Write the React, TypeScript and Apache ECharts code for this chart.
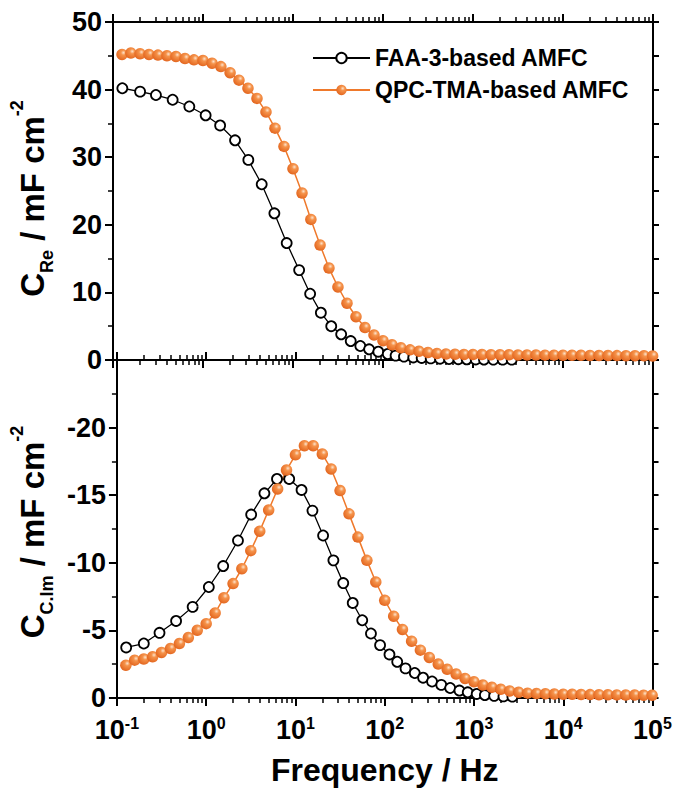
import React, { useEffect, useRef } from "react";
import * as echarts from "echarts";

// ---------- data ----------
const seriesNames = ["FAA-3-based AMFC", "QPC-TMA-based AMFC"];

// FAA-3-based AMFC frequencies (Hz)
const blackFreq = [
  0.127, 0.2, 0.3, 0.46, 0.705, 1.07, 1.55, 2.27, 3.19, 4.49,
  6.21, 8.51, 11.7, 15.5, 20.4, 26.6, 34.3, 43.8, 56.0, 70.1,
  88.7, 113, 138, 171, 217, 269, 339, 430, 541, 687,
  851, 1072, 1324, 1683, 2138, 2692,
];
// C_Re (mF cm^-2)
const blackRe = [
  40.2, 39.7, 39.2, 38.5, 37.5, 36.2, 34.7, 32.5, 29.6, 26.0,
  21.7, 17.3, 13.3, 9.8, 7.0, 5.0, 3.8, 2.8, 2.07, 1.58,
  1.23, 0.89, 0.65, 0.5, 0.38, 0.3, 0.24, 0.19, 0.15, 0.12,
  0.1, 0.08, 0.07, 0.06, 0.05, 0.05,
];
// C_C.Im (mF cm^-2)
const blackIm = [
  -3.74, -4.03, -4.82, -5.7, -6.74, -8.21, -9.76, -11.65, -13.57, -15.14,
  -16.2, -16.2, -15.39, -13.86, -12.02, -10.18, -8.5, -7.03, -5.75, -4.77,
  -3.91, -3.22, -2.68, -2.19, -1.85, -1.5, -1.22, -0.97, -0.74, -0.55,
  -0.42, -0.3, -0.22, -0.16, -0.12, -0.1,
];

// QPC-TMA-based AMFC frequencies (Hz)
const orangeFreq = [
  0.126, 0.158, 0.2, 0.251, 0.316, 0.398, 0.501, 0.631, 0.794, 1,
  1.26, 1.58, 2, 2.51, 3.16, 3.98, 5.01, 6.31, 7.94, 10,
  12.6, 15.8, 20, 25.1, 31.6, 39.8, 50.1, 63.1, 79.4, 100,
  126, 158, 200, 251, 316, 398, 501, 631, 794, 1000,
  1259, 1585, 1995, 2512, 3162, 3981, 5012, 6310, 7943, 10000,
  12589, 15849, 19953, 25119, 31623, 39811, 50119, 63096, 79433, 99000,
];
const orangeRe = [
  45.2, 45.4, 45.3, 45.2, 45.1, 45.0, 44.9, 44.6, 44.4, 44.3,
  43.9, 43.4, 42.5, 41.4, 40.2, 38.7, 36.7, 34.3, 31.6, 28.3,
  24.7, 20.8, 17.0, 13.6, 10.8, 8.4, 6.4, 4.8, 3.7, 2.85,
  2.25, 1.8, 1.5, 1.28, 1.1, 0.95, 0.88, 0.84, 0.82, 0.8,
  0.8, 0.78, 0.78, 0.77, 0.75, 0.75, 0.74, 0.72, 0.72, 0.71,
  0.7, 0.69, 0.68, 0.68, 0.66, 0.65, 0.64, 0.63, 0.62, 0.6,
];
const orangeIm = [
  -2.43, -2.8, -2.88, -3.05, -3.37, -3.66, -4.03, -4.47, -5.01, -5.5,
  -6.29, -7.42, -8.46, -9.56, -10.9, -12.34, -13.9, -15.46, -16.86, -17.99,
  -18.66, -18.66, -18.04, -16.94, -15.34, -13.62, -11.9, -10.18, -8.58, -7.23,
  -6.05, -5.07, -4.2, -3.54, -3.0, -2.51, -2.12, -1.77, -1.45, -1.2,
  -0.96, -0.79, -0.64, -0.52, -0.42, -0.36, -0.33, -0.31, -0.29, -0.28,
  -0.27, -0.26, -0.25, -0.24, -0.24, -0.23, -0.22, -0.22, -0.21, -0.2,
];

// axis ranges / ticks
const xMin = 0.1;
const xMax = 100000;
const decadeExponents = [-1, 0, 1, 2, 3, 4];
const minorMultipliers = [2, 3, 4, 5, 6, 7, 8, 9];
const reRange = [0, 50];
const imRange = [-25, 0];

const FONT = "'Liberation Sans', Arial, sans-serif";
const ORANGE = "#ef792b";

export default function App() {
  const ref = useRef<HTMLDivElement>(null);

  useEffect(() => {
    if (!ref.current) return;
    const chart = echarts.init(ref.current, undefined, { renderer: "svg" });

    const minorLogTicks: number[] = [];
    decadeExponents.forEach((e) =>
      minorMultipliers.forEach((m) => minorLogTicks.push(e + Math.log10(m)))
    );

    const axisLine = { show: true, onZero: false, lineStyle: { color: "#000", width: 2 } };

    const majorX = (grid: number, position: string, withLabels: boolean) => ({
      type: "log",
      logBase: 10,
      gridIndex: grid,
      position,
      min: xMin,
      max: xMax,
      axisLine,
      axisTick: { show: true, length: 8, lineStyle: { color: "#000", width: 2 } },
      axisLabel: withLabels
        ? {
            show: true,
            margin: 17,
            formatter: (v: number) => {
              const e = Math.round(Math.log10(v));
              return "{b|10}{p|" + e + "}";
            },
            rich: {
              b: { fontSize: 27, fontWeight: "bold", fontFamily: FONT, color: "#000", lineHeight: 30 },
              p: { fontSize: 16, fontWeight: "bold", fontFamily: FONT, color: "#000", lineHeight: 16, verticalAlign: "top" },
            },
          }
        : { show: false },
      splitLine: { show: false },
      ...(withLabels
        ? {
            name: "Frequency / Hz",
            nameLocation: "middle",
            nameGap: 56,
            nameTextStyle: { fontSize: 32, fontWeight: "bold", fontFamily: FONT, color: "#000" },
          }
        : {}),
    });

    const minorX = (grid: number, position: string) => ({
      type: "value",
      gridIndex: grid,
      position,
      min: -1,
      max: 5,
      axisLine: { show: false, onZero: false },
      axisTick: { show: true, length: 5, customValues: minorLogTicks, lineStyle: { color: "#000", width: 1.5 } },
      axisLabel: { show: false },
      splitLine: { show: false },
    });

    const yTitleRich = {
      m: { fontSize: 33, fontWeight: "bold", fontFamily: FONT, color: "#000", lineHeight: 48 },
      s: { fontSize: 18, fontWeight: "bold", fontFamily: FONT, color: "#000", lineHeight: 18, verticalAlign: "bottom" },
      p: { fontSize: 18, fontWeight: "bold", fontFamily: FONT, color: "#000", lineHeight: 18, verticalAlign: "top" },
    };

    const yLabel = { fontSize: 27, fontWeight: "bold", fontFamily: FONT, color: "#000", margin: 11 };

    const blackItem = { color: "#fff", borderColor: "#000", borderWidth: 1.8 };
    const orangeItem = {
      color: {
        type: "radial",
        x: 0.62,
        y: 0.35,
        r: 0.7,
        colorStops: [
          { offset: 0, color: "#fde3cc" },
          { offset: 0.3, color: "#f5934b" },
          { offset: 1, color: "#e2631c" },
        ],
      },
    };

    const option: any = {
      animation: false,
      backgroundColor: "#fff",
      textStyle: { fontFamily: FONT, fontWeight: "bold", color: "#000" },
      grid: [
        { left: 113, right: 22, top: 22, height: 338 },
        { left: 113, right: 22, top: 360, height: 338 },
      ],
      legend: {
        data: seriesNames,
        orient: "vertical",
        left: 307,
        top: 40,
        itemWidth: 57,
        itemHeight: 13,
        itemGap: 6,
        textStyle: { fontSize: 23, fontWeight: "bold", fontFamily: FONT, color: "#000", lineHeight: 26 },
      },
      xAxis: [
        majorX(0, "bottom", false),
        majorX(0, "top", false),
        majorX(1, "bottom", true),
        majorX(1, "top", false),
        minorX(0, "bottom"),
        minorX(0, "top"),
        minorX(1, "bottom"),
        minorX(1, "top"),
      ],
      yAxis: [
        {
          type: "value",
          gridIndex: 0,
          position: "left",
          min: reRange[0],
          max: reRange[1],
          interval: 10,
          axisLine,
          axisTick: { show: true, length: 8, lineStyle: { color: "#000", width: 2 } },
          minorTick: { show: true, splitNumber: 2, length: 5, lineStyle: { color: "#000", width: 1.5 } },
          axisLabel: yLabel,
          splitLine: { show: false },
          minorSplitLine: { show: false },
          name: "{m|C}{s|Re}{m| / mF cm}{p|-2}",
          nameLocation: "middle",
          nameGap: 57,
          nameTextStyle: { rich: yTitleRich, padding: [0, 15, 0, 0] },
        },
        {
          type: "value",
          gridIndex: 0,
          position: "right",
          min: reRange[0],
          max: reRange[1],
          interval: 5,
          axisLine,
          axisTick: { show: true, length: 6, lineStyle: { color: "#000", width: 2 } },
          axisLabel: { show: false },
          splitLine: { show: false },
        },
        {
          type: "value",
          gridIndex: 1,
          position: "left",
          min: imRange[0],
          max: imRange[1],
          interval: 5,
          inverse: true,
          axisLine,
          axisTick: { show: true, length: 8, lineStyle: { color: "#000", width: 2 } },
          minorTick: { show: true, splitNumber: 2, length: 5, lineStyle: { color: "#000", width: 1.5 } },
          axisLabel: { ...yLabel, formatter: (v: number) => (v === imRange[0] ? "" : String(v)) },
          splitLine: { show: false },
          minorSplitLine: { show: false },
          name: "{m|C}{s|C.Im}{m| / mF cm}{p|-2}",
          nameLocation: "middle",
          nameGap: 57,
          nameTextStyle: { rich: yTitleRich, padding: [0, 6, 0, 0] },
        },
        {
          type: "value",
          gridIndex: 1,
          position: "right",
          min: imRange[0],
          max: imRange[1],
          interval: 2.5,
          inverse: true,
          axisLine,
          axisTick: { show: true, length: 6, lineStyle: { color: "#000", width: 2 } },
          axisLabel: { show: false },
          splitLine: { show: false },
        },
      ],
      series: [
        {
          type: "line",
          name: seriesNames[0],
          xAxisIndex: 0,
          yAxisIndex: 0,
          data: blackFreq.map((f, i) => [f, blackRe[i]]),
          symbol: "circle",
          symbolSize: 10,
          itemStyle: blackItem,
          lineStyle: { color: "#000", width: 1.3 },
        },
        {
          type: "line",
          name: seriesNames[1],
          xAxisIndex: 0,
          yAxisIndex: 0,
          data: orangeFreq.map((f, i) => [f, orangeRe[i]]),
          symbol: "circle",
          symbolSize: 11.5,
          itemStyle: orangeItem,
          lineStyle: { color: ORANGE, width: 1.5 },
        },
        {
          type: "line",
          name: seriesNames[0],
          xAxisIndex: 2,
          yAxisIndex: 2,
          data: blackFreq.map((f, i) => [f, blackIm[i]]),
          symbol: "circle",
          symbolSize: 10,
          itemStyle: blackItem,
          lineStyle: { color: "#000", width: 1.3 },
        },
        {
          type: "line",
          name: seriesNames[1],
          xAxisIndex: 2,
          yAxisIndex: 2,
          data: orangeFreq.map((f, i) => [f, orangeIm[i]]),
          symbol: "circle",
          symbolSize: 11.5,
          itemStyle: orangeItem,
          lineStyle: { color: ORANGE, width: 1.5 },
        },
      ],
    };

    chart.setOption(option);
    return () => chart.dispose();
  }, []);

  return (
    <div
      ref={ref}
      style={{ position: "absolute", left: 0, top: 0, width: 675, height: 788, background: "#fff" }}
    />
  );
}
